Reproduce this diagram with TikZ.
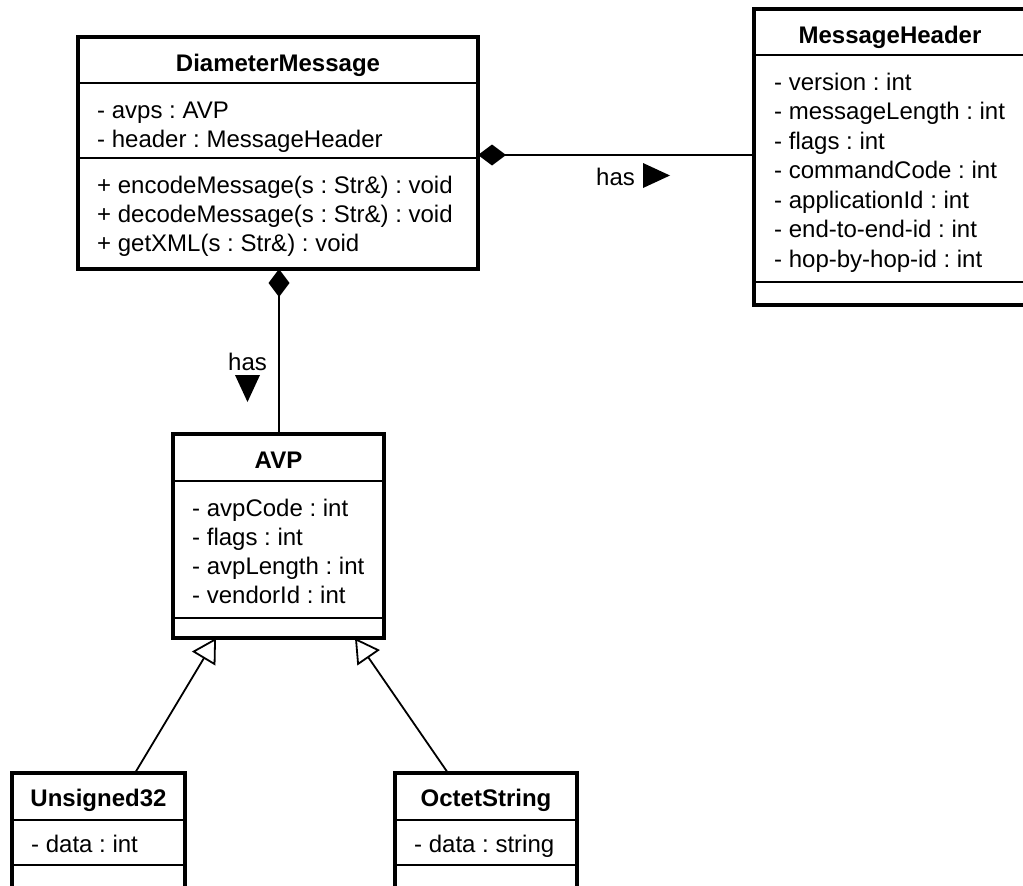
\documentclass[tikz,border=0pt]{standalone}
\usepackage{fontspec}
\setmainfont{Liberation Sans}
\usetikzlibrary{arrows.meta}
\tikzset{
  cls/.style={draw, line width=3.5pt, inner sep=0pt, outer sep=0pt, anchor=north west, fill=white},
  sepline/.style={line width=1.8pt},
  attr/.style={anchor=base west, inner sep=0pt, font=\fontsize{24}{29}\selectfont\frenchspacing},
  ttl/.style={anchor=base, inner sep=0pt, font=\bfseries\fontsize{24}{29}\selectfont\frenchspacing},
  conn/.style={line width=1.8pt},
  lbl/.style={anchor=base west, inner sep=0pt, font=\fontsize{24}{29}\selectfont},
  compo/.style={conn, {Diamond[length=28pt, width=21pt]}-},
  gener/.style={conn, -{Triangle[open, length=24pt, width=27pt]}},
}
\begin{document}
\begin{tikzpicture}[x=1pt, y=-1pt]
\useasboundingbox (0,0) rectangle (1023,886);
\clip (0,0) rectangle (1023,886);

% ---------- DiameterMessage ----------
\node[cls, minimum width=400pt, minimum height=232pt] (dm) at (78,37) {};
\draw[sepline] (dm.west |- 0,83) -- (dm.east |- 0,83);
\draw[sepline] (dm.west |- 0,158) -- (dm.east |- 0,158);
\node[ttl] (dmT) at (278,71) {DiameterMessage};
\node[attr] (dmA1) at (97,118) {- avps : AVP};
\node[attr] (dmA2) at (97,147) {- header : MessageHeader};
\node[attr] (dmO1) at (97,193) {+ encodeMessage(s : Str\&) : void};
\node[attr] (dmO2) at (97,222) {+ decodeMessage(s : Str\&) : void};
\node[attr] (dmO3) at (97,251) {+ getXML(s : Str\&) : void};

% ---------- MessageHeader ----------
\node[cls, minimum width=290pt, minimum height=296pt] (mh) at (754,9) {};
\draw[sepline] (mh.west |- 0,55) -- (mh.east |- 0,55);
\draw[sepline] (mh.west |- 0,282) -- (mh.east |- 0,282);
\node[ttl] (mhT) at (890,43) {MessageHeader};
\node[attr] (mhA1) at (774,90) {- version : int};
\node[attr] (mhA2) at (774,119.5) {- messageLength : int};
\node[attr] (mhA3) at (774,149) {- flags : int};
\node[attr] (mhA4) at (774,178.5) {- commandCode : int};
\node[attr] (mhA5) at (774,208) {- applicationId : int};
\node[attr] (mhA6) at (774,237.5) {- end-to-end-id : int};
\node[attr] (mhA7) at (774,267) {- hop-by-hop-id : int};

% ---------- AVP ----------
\node[cls, minimum width=211pt, minimum height=204pt] (avp) at (173,434) {};
\draw[sepline] (avp.west |- 0,481) -- (avp.east |- 0,481);
\draw[sepline] (avp.west |- 0,618) -- (avp.east |- 0,618);
\node[ttl] (avpT) at (278.5,468) {AVP};
\node[attr] (avpA1) at (192,516) {- avpCode : int};
\node[attr] (avpA2) at (192,545) {- flags : int};
\node[attr] (avpA3) at (192,574) {- avpLength : int};
\node[attr] (avpA4) at (192,603) {- vendorId : int};

% ---------- Unsigned32 ----------
\node[cls, minimum width=173pt, minimum height=116pt] (u32) at (12,773) {};
\draw[sepline] (u32.west |- 0,820) -- (u32.east |- 0,820);
\draw[sepline] (u32.west |- 0,865) -- (u32.east |- 0,865);
\node[ttl] (u32T) at (98.5,806) {Unsigned32};
\node[attr] (u32A1) at (31,852) {- data : int};

% ---------- OctetString ----------
\node[cls, minimum width=182pt, minimum height=116pt] (oct) at (395,773) {};
\draw[sepline] (oct.west |- 0,820) -- (oct.east |- 0,820);
\draw[sepline] (oct.west |- 0,865) -- (oct.east |- 0,865);
\node[ttl] (octT) at (486,806) {OctetString};
\node[attr] (octA1) at (414,852) {- data : string};

% ---------- connectors ----------
\coordinate (hY) at (0,155);
\coordinate (vX) at (279,0);
\draw[compo] (dm.east |- hY) -- (mh.west |- hY);
\draw[compo] (dm.south -| vX) -- (avp.north -| vX);

\coordinate (gLtip) at (216,638);
\coordinate (gRtip) at (355,638);
\coordinate (u32in) at (135,773);
\coordinate (octin) at (448,773);
\draw[gener] (u32in) -- (gLtip);
\draw[gener] (octin) -- (gRtip);

% ---------- labels ----------
\node[lbl] (has1) at (596,185) {has};
\fill (643,163) -- (643,188) -- (670,175.5) -- cycle;
\node[lbl] (has2) at (228,370) {has};
\fill (235,375) -- (260,375) -- (247.5,402) -- cycle;
\end{tikzpicture}
\end{document}
